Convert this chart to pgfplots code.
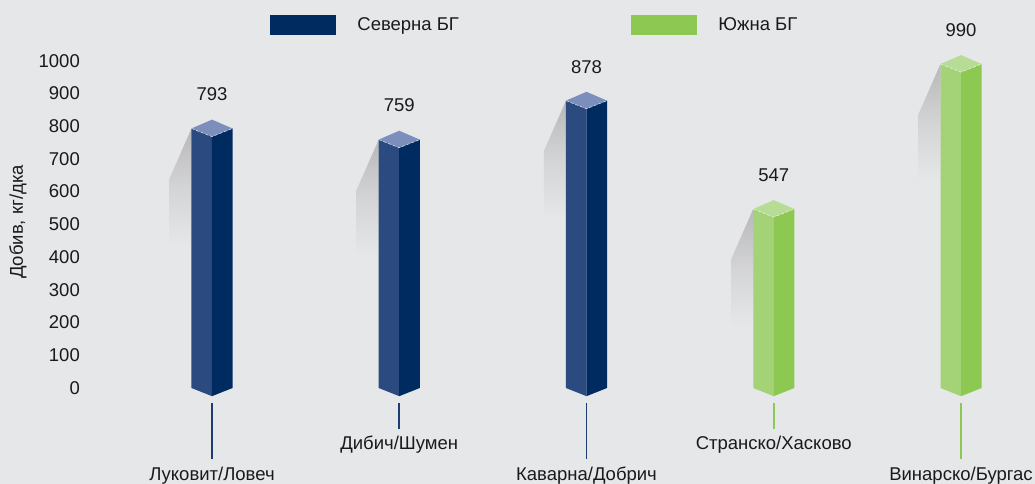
\documentclass[border=0pt]{standalone}
\usepackage{fontspec}
\setmainfont{Liberation Sans}
\usepackage{pgfplots}
\pgfplotsset{compat=1.18}
\definecolor{bg}{HTML}{E6E7E9}
\definecolor{txt}{HTML}{1A1A1A}
\definecolor{bL}{HTML}{2A4A80}
\definecolor{bR}{HTML}{002B60}
\definecolor{bT}{HTML}{7B8EBC}
\definecolor{bLine}{HTML}{1F3B73}
\definecolor{gL}{HTML}{A3D277}
\definecolor{gR}{HTML}{8CC852}
\definecolor{gT}{HTML}{B6DC96}
\definecolor{gLine}{HTML}{8CC852}
\definecolor{shad}{HTML}{B8B8BB}
\newcommand{\fs}{\fontsize{18.5}{21}\selectfont}
% #1 x position, #2 value, #3 left face, #4 right face, #5 top face
\newcommand{\prism}[5]{%
  \pgfmathsetmacro\xL{#1-0.1095}%
  \pgfmathsetmacro\xR{#1+0.1095}%
  \pgfmathsetmacro\xS{#1-0.1095-0.1175}%
  \pgfmathsetmacro\vB{#2+27}%
  \pgfmathsetmacro\vF{#2-25}%
  \pgfmathsetmacro\vS{#2-153}%
  \pgfmathsetmacro\vSS{#2-360}%
  \edef\temp{%
    \noexpand\addplot[draw=none, forget plot, top color=shad, bottom color=bg, middle color=shad!40!bg] coordinates {(\xL,#2) (\xS,\vS) (\xS,\vSS) (\xL,\vSS)} -- cycle;
    \noexpand\addplot[draw=none, forget plot, fill=#3] coordinates {(\xL,0) (\xL,#2) (#1,\vF) (#1,-25)} -- cycle;
    \noexpand\addplot[draw=none, forget plot, fill=#4] coordinates {(#1,-25) (#1,\vF) (\xR,#2) (\xR,0)} -- cycle;
    \noexpand\addplot[draw=none, forget plot, fill=#5] coordinates {(\xL,#2) (#1,\vB) (\xR,#2) (#1,\vF)} -- cycle;
    \noexpand\addplot[white, opacity=0.75, densely dashed, line width=0.5pt, forget plot] coordinates {(\xL,#2) (#1,\vF) (\xR,#2)};
  }%
  \temp
}
\begin{document}
\begin{tikzpicture}
\path[use as bounding box, fill=bg] (0,0) rectangle (1035pt,484pt);
\begin{axis}[
  at={(80pt,81pt)}, anchor=south west,
  scale only axis, width=955pt, height=403pt,
  xmin=-0.7049, xmax=4.3952, ymin=-45.8, ymax=1185.5,
  clip=false,
  axis line style={draw=none},
  major tick length=0pt,
  ytick={0,100,...,1000},
  xtick={0,1,2,3,4},
  xticklabels={Луковит/Ловеч, \raisebox{31pt}{Дибич/Шумен}, Каварна/Добрич, \raisebox{31pt}{Странско/Хасково}, Винарско/Бургас},
  xticklabel style={anchor=base, yshift=-78pt, inner sep=0pt, font=\fs, text=txt},
  yticklabel style={anchor=east, inner sep=0pt, font=\fs, text=txt},
  /pgf/number format/assume math mode=true,
  /pgf/number format/1000 sep={},
  ylabel={Добив, кг/дка},
  ylabel style={at={(axis description cs:-0.0649,0.4491)}, anchor=center, font=\fs, text=txt},
  legend columns=2,
  legend style={at={(axis description cs:0.19895,0.9395)}, anchor=west, draw=none, fill=none,
    inner sep=0pt, outer sep=0pt, nodes={inner sep=0pt, font=\fs, text=txt},
    /tikz/every odd column/.append style={column sep=22pt}},
]
\addlegendimage{legend image code/.code={\fill[bR] (0pt,-9.5pt) rectangle (65pt,9.5pt);}}
\addlegendentry{\makebox[273.7pt][l]{Северна БГ}}
\addlegendimage{legend image code/.code={\fill[gR] (0pt,-9.5pt) rectangle (65pt,9.5pt);}}
\addlegendentry{Южна БГ}

\prism{0}{793}{bL}{bR}{bT}
\prism{1}{759}{bL}{bR}{bT}
\prism{2}{878}{bL}{bR}{bT}
\prism{3}{547}{gL}{gR}{gT}
\prism{4}{990}{gL}{gR}{gT}

\addplot[draw=none, forget plot, point meta=y, nodes near coords,
  nodes near coords style={anchor=center, yshift=34pt, font=\fs, text=txt}]
  coordinates {(0,793) (1,759) (2,878) (3,547) (4,990)};

\addplot[bLine, line width=1.7pt, forget plot] coordinates {(0,-46) (0,-217)};
\addplot[bLine, line width=1.7pt, forget plot] coordinates {(1,-46) (1,-125)};
\addplot[bLine, line width=1.7pt, forget plot] coordinates {(2,-46) (2,-217)};
\addplot[gLine, line width=1.7pt, forget plot] coordinates {(3,-46) (3,-125)};
\addplot[gLine, line width=1.7pt, forget plot] coordinates {(4,-46) (4,-217)};
\end{axis}
\end{tikzpicture}
\end{document}
